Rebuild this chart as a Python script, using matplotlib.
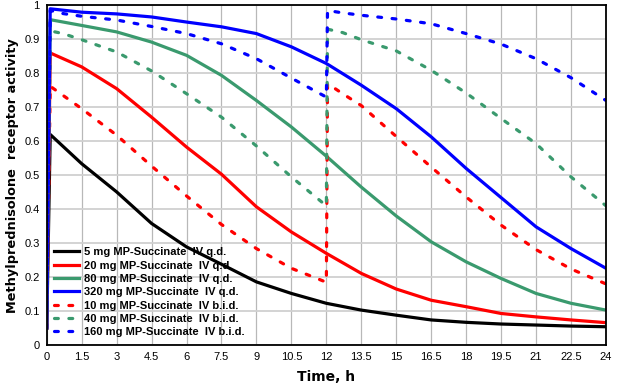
import matplotlib
matplotlib.use("Agg")
import matplotlib.pyplot as plt
import numpy as np

# q.d. curves
t_qd = [0, 0.15, 1.5, 3, 4.5, 6, 7.5, 9, 10.5, 12, 13.5, 15, 16.5, 18, 19.5, 21, 22.5, 24]
mp5_qd = [0.05, 0.62, 0.534, 0.451, 0.358, 0.289, 0.238, 0.186, 0.152, 0.123, 0.103, 0.088, 0.074, 0.067, 0.062, 0.059, 0.056, 0.054]
mp20_qd = [0.05, 0.86, 0.819, 0.755, 0.671, 0.583, 0.503, 0.407, 0.333, 0.27, 0.211, 0.165, 0.132, 0.113, 0.093, 0.083, 0.074, 0.066]
mp80_qd = [0.05, 0.958, 0.941, 0.922, 0.892, 0.853, 0.794, 0.72, 0.642, 0.556, 0.465, 0.38, 0.304, 0.245, 0.196, 0.152, 0.123, 0.103]
mp320_qd = [0.05, 0.99, 0.98, 0.975, 0.966, 0.951, 0.937, 0.917, 0.878, 0.829, 0.765, 0.696, 0.613, 0.52, 0.434, 0.348, 0.284, 0.226]

# b.i.d. curves (second dose at 12 h)
t_bid = [0, 0.15, 0.7, 1.5, 3, 4.5, 6, 7.5, 9, 10.5, 12, 12.05, 12.7, 13.5, 15, 16.5, 18, 19.5, 21, 22.5, 24]
mp10_bid = [0.05, 0.762, 0.735, 0.696, 0.618, 0.527, 0.439, 0.355, 0.284, 0.226, 0.185, 0.77, 0.74, 0.705, 0.614, 0.524, 0.436, 0.353, 0.281, 0.224, 0.18]
mp40_bid = [0.05, 0.925, 0.917, 0.899, 0.863, 0.807, 0.74, 0.671, 0.586, 0.495, 0.41, 0.93, 0.92, 0.899, 0.866, 0.809, 0.742, 0.667, 0.593, 0.495, 0.41]
mp160_bid = [0.05, 0.985, 0.976, 0.968, 0.957, 0.938, 0.917, 0.887, 0.843, 0.786, 0.73, 0.985, 0.978, 0.971, 0.96, 0.946, 0.917, 0.886, 0.843, 0.787, 0.72]

labels = ["5 mg MP-Succinate  IV q.d.", "20 mg MP-Succinate  IV q.d.",
          "80 mg MP-Succinate  IV q.d.", "320 mg MP-Succinate  IV q.d.",
          "10 mg MP-Succinate  IV b.i.d.", "40 mg MP-Succinate  IV b.i.d.",
          "160 mg MP-Succinate  IV b.i.d."]

xticks = [0, 1.5, 3, 4.5, 6, 7.5, 9, 10.5, 12, 13.5, 15, 16.5, 18, 19.5, 21, 22.5, 24]
xticklabels = ["0", "1.5", "3", "4.5", "6", "7.5", "9", "10.5", "12", "13.5", "15",
               "16.5", "18", "19.5", "21", "22.5", "24"]
yticks = [0, 0.1, 0.2, 0.3, 0.4, 0.5, 0.6, 0.7, 0.8, 0.9, 1]
yticklabels = ["0", "0.1", "0.2", "0.3", "0.4", "0.5", "0.6", "0.7", "0.8", "0.9", "1"]

green = "#3a9a6e"
plt.rcParams['font.family'] = ['Liberation Sans', 'DejaVu Sans']

fig = plt.figure(figsize=(6.18, 3.86), dpi=100)
ax = fig.add_axes([0.0756, 0.106, 0.905, 0.880])

lw = 2.3
dash = (1.2, 3.3)
ax.plot(t_qd, mp5_qd, color="black", lw=lw, label=labels[0])
ax.plot(t_qd, mp20_qd, color="#ff0000", lw=lw, label=labels[1])
ax.plot(t_qd, mp80_qd, color=green, lw=lw, label=labels[2])
ax.plot(t_qd, mp320_qd, color="#0000ff", lw=lw, label=labels[3])
ax.plot(t_bid, mp10_bid, color="#ff0000", lw=lw, dashes=dash, dash_capstyle="round", label=labels[4])
ax.plot(t_bid, mp40_bid, color=green, lw=lw, dashes=dash, dash_capstyle="round", label=labels[5])
ax.plot(t_bid, mp160_bid, color="#0000ff", lw=lw, dashes=dash, dash_capstyle="round", label=labels[6])

ax.set_xlim(0, 24)
ax.set_ylim(0, 1)
ax.set_xticks(xticks)
ax.set_xticklabels(xticklabels)
ax.set_yticks(yticks)
ax.set_yticklabels(yticklabels)
ax.tick_params(length=0, labelsize=8, pad=5)
ax.grid(axis="x", color="#b8b8b8", lw=0.9)
ax.grid(axis="y", color="#d0d0d0", lw=1.3)
ax.set_axisbelow(True)
for s in ax.spines.values():
    s.set_linewidth(1.3)
    s.set_color("black")

ax.set_xlabel("Time, h", fontsize=10, fontweight="bold", family="DejaVu Sans", labelpad=6)
ax.set_ylabel("Methylprednisolone  receptor activity", fontsize=9.3, fontweight="bold",
              family="DejaVu Sans", labelpad=4)

leg = ax.legend(loc="lower left", frameon=False, prop={'weight': 'bold', 'size': 8},
                handlelength=2.2, handletextpad=0.5, labelspacing=0.3,
                borderaxespad=0.3, bbox_to_anchor=(0.0, 0.0))

fig.savefig("out.png", dpi=100)
